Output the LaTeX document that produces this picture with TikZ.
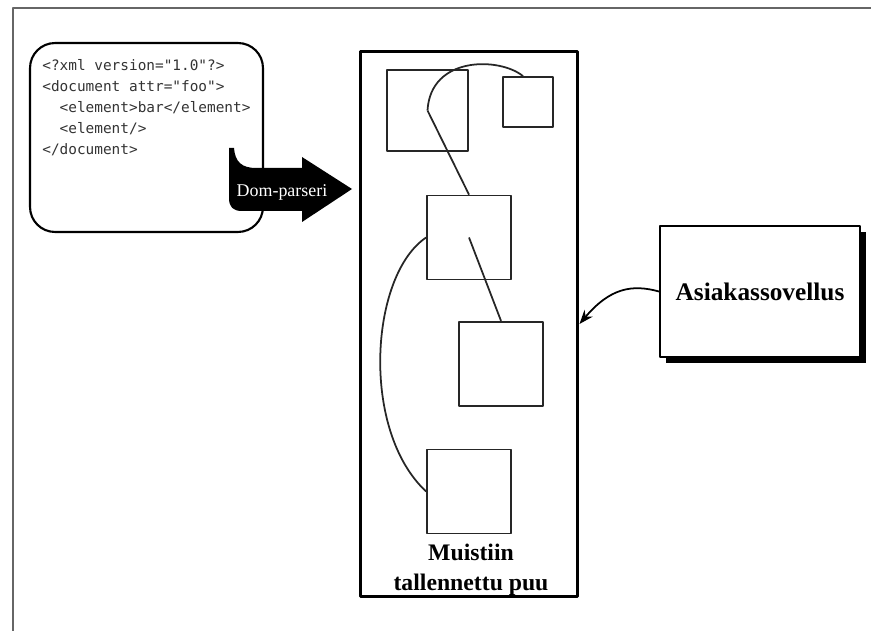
\documentclass[tikz,border=0pt]{standalone}
\usepackage{fontspec}
\setmainfont{Liberation Serif}
\newfontfamily\xmlfont{DejaVu Sans Mono}
\usetikzlibrary{arrows.meta,shadows}

\tikzset{
  treenode/.style={draw,line width=1pt,black!85,minimum width=#1,minimum height=#1,inner sep=0pt},
  treeedge/.style={line width=1pt,black!85},
}

\begin{document}
\begin{tikzpicture}[x=0.02cm,y=-0.02cm,line join=round]
\useasboundingbox (0,0) rectangle (871,631);
% page frame, open on the right and at the bottom
\draw[line width=1.2pt,black!60] (13,631) -- (13,8) -- (871,8);

% source document
\node[draw,line width=1.2pt,rounded corners=0.5cm,minimum width=4.66cm,minimum height=3.78cm] (xml) at (146.5,137.5) {};
\node[anchor=north west,inner sep=0pt,align=left,text=black!80,font=\xmlfont\fontsize{8.2}{11.9}\selectfont] (code) at (42,59)
  {<?xml version="1.0"?>\\<document attr="foo">\\\ \ <element>bar</element>\\\ \ <element/>\\</document>};

% parser arrow
\fill (229,148) -- (229,198) .. controls (229,207) and (233,211) .. (242,211) -- (302,211) -- (302,222)
  -- (352,189) -- (302,157) -- (302,168) -- (256,168) .. controls (242,168) and (235,162) .. (234,148) -- cycle;
\node[text=white,font=\fontsize{10.2}{12}\selectfont] (parser) at (282,192) {Dom-parseri};

% tree in memory
\node[draw,line width=1.7pt,minimum width=4.36cm,minimum height=10.92cm] (tree) at (469,324) {};
\node[treenode=1.62cm] (sq1) at (427.5,110.5) {};
\node[treenode=1.0cm] (sq2) at (528,102) {};
\node[treenode=1.68cm] (sq3) at (469,237.5) {};
\node[treenode=1.68cm,line width=1.3pt] (sq4) at (501,364) {};
\node[treenode=1.68cm] (sq5) at (469,491.5) {};
\draw[treeedge] (sq1.center) .. controls +(3,-55) and +(-23,-19) .. ([xshift=-0.1cm]sq2.north);
\draw[treeedge] (sq1.center) -- (sq3.north);
\draw[treeedge] (sq3.center) -- (sq4.north);
\draw[treeedge] (sq3.west) .. controls (370,275) and (360,430) .. (sq5.west);
\node[font=\bfseries\fontsize{13.5}{17}\selectfont,align=center] (caption) at (471,570) {Muistiin\\tallennettu puu};

% client application
\node[draw,line width=1.2pt,fill=white,minimum width=4cm,minimum height=2.62cm,
  drop shadow={shadow xshift=0.12cm,shadow yshift=-0.12cm,fill=black,opacity=1},
  font=\bfseries\fontsize{14.4}{17}\selectfont] (app) at (760,291.5) {Asiakassovellus};
\draw[line width=1pt,-{Stealth[length=8pt,width=6pt]}] (app.west) .. controls (632,284) and (610,288) .. (tree.east);
\end{tikzpicture}
\end{document}
